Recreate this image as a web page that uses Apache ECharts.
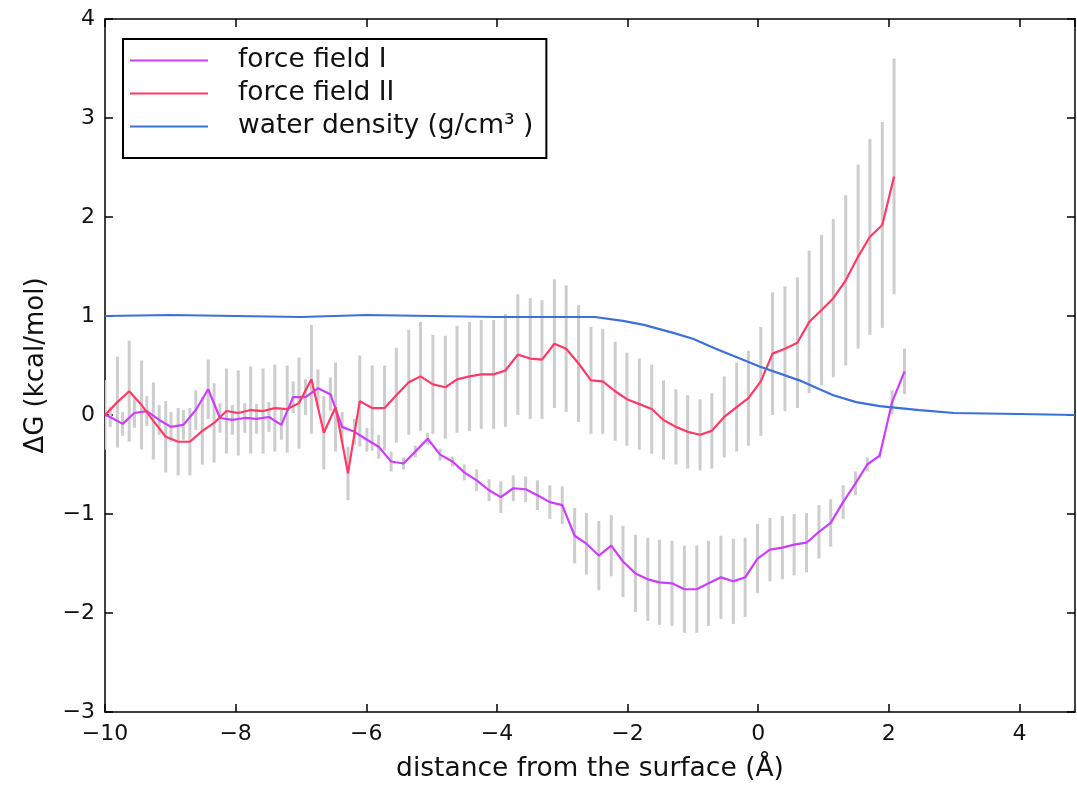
<!DOCTYPE html>
<html>
<head>
<meta charset="utf-8">
<script src="https://cdn.jsdelivr.net/npm/echarts@6/dist/echarts.min.js"></script>
<style>
html,body{margin:0;padding:0;background:#fff;}
#chart{width:1077px;height:791px;}
</style>
</head>
<body>
<div id="chart"></div>
<script>
// ---------- data ----------
const seriesNames = ['force field I', 'force field II', 'water density (g/cm\u00b3 )'];

const ff1X = [-10.00, -9.92, -9.73, -9.55, -9.36, -9.17, -8.99, -8.80, -8.61, -8.42, -8.24,
  -8.05, -7.86, -7.68, -7.49, -7.30, -7.12, -6.93, -6.74, -6.55, -6.37,
  -6.18, -5.99, -5.81, -5.62, -5.43, -5.25, -5.06, -4.87, -4.68, -4.50,
  -4.31, -4.12, -3.94, -3.75, -3.56, -3.38, -3.19, -3.00, -2.81, -2.63,
  -2.44, -2.25, -2.07, -1.88, -1.69, -1.51, -1.32, -1.13, -0.94, -0.76,
  -0.57, -0.38, -0.20, -0.01, 0.18, 0.37, 0.55, 0.74, 0.93, 1.11,
  1.30, 1.49, 1.67, 1.86, 2.05, 2.24];
const ff1Y = [0.00, -0.02, -0.09, 0.02, 0.04, -0.05, -0.12, -0.10, 0.05, 0.26, -0.03,
  -0.05, -0.03, -0.04, -0.02, -0.10, 0.18, 0.18, 0.27, 0.21, -0.12,
  -0.17, -0.25, -0.32, -0.47, -0.49, -0.37, -0.24, -0.40, -0.47, -0.58,
  -0.66, -0.76, -0.83, -0.74, -0.75, -0.81, -0.88, -0.91, -1.22, -1.30,
  -1.42, -1.32, -1.48, -1.60, -1.66, -1.69, -1.70, -1.76, -1.76, -1.70,
  -1.64, -1.68, -1.64, -1.45, -1.36, -1.34, -1.31, -1.29, -1.18, -1.09,
  -0.88, -0.69, -0.50, -0.41, 0.13, 0.44];
const ff1Err = [0.00, 0.10, 0.12, 0.15, 0.15, 0.15, 0.15, 0.15, 0.20, 0.30, 0.15,
  0.15, 0.15, 0.15, 0.15, 0.15, 0.16, 0.18, 0.19, 0.17, 0.15,
  0.13, 0.12, 0.12, 0.10, 0.06, 0.06, 0.06, 0.06, 0.05, 0.08,
  0.11, 0.11, 0.16, 0.13, 0.13, 0.15, 0.17, 0.19, 0.28, 0.31,
  0.35, 0.31, 0.36, 0.39, 0.42, 0.43, 0.43, 0.44, 0.44, 0.43,
  0.42, 0.43, 0.40, 0.35, 0.32, 0.32, 0.31, 0.30, 0.27, 0.24,
  0.17, 0.12, 0.07, 0.03, 0.12, 0.23];

const ff2X = [-10.00, -9.81, -9.63, -9.44, -9.26, -9.07, -8.88, -8.70, -8.51, -8.33,
  -8.14, -7.96, -7.77, -7.58, -7.40, -7.21, -7.03, -6.84, -6.65, -6.47,
  -6.28, -6.10, -5.91, -5.72, -5.54, -5.35, -5.17, -4.98, -4.79, -4.61,
  -4.42, -4.24, -4.05, -3.87, -3.68, -3.49, -3.31, -3.12, -2.94, -2.75,
  -2.56, -2.38, -2.19, -2.01, -1.82, -1.63, -1.45, -1.26, -1.08, -0.89,
  -0.71, -0.52, -0.33, -0.15, 0.04, 0.22, 0.41, 0.60, 0.78, 0.97,
  1.15, 1.34, 1.53, 1.71, 1.90, 2.08];
const ff2Y = [0.00, 0.13, 0.24, 0.10, -0.06, -0.22, -0.27, -0.27, -0.16, -0.08,
  0.04, 0.02, 0.05, 0.04, 0.07, 0.06, 0.12, 0.36, -0.18, 0.08,
  -0.59, 0.14, 0.07, 0.07, 0.20, 0.33, 0.39, 0.31, 0.28, 0.36,
  0.39, 0.41, 0.41, 0.45, 0.61, 0.57, 0.56, 0.72, 0.67, 0.52,
  0.35, 0.34, 0.24, 0.16, 0.11, 0.06, -0.05, -0.12, -0.17, -0.20,
  -0.16, -0.02, 0.08, 0.17, 0.34, 0.62, 0.67, 0.73, 0.94, 1.06,
  1.18, 1.36, 1.60, 1.80, 1.92, 2.41];
const ff2Err = [0.35, 0.46, 0.51, 0.45, 0.39, 0.36, 0.34, 0.34, 0.34, 0.40,
  0.43, 0.43, 0.44, 0.43, 0.44, 0.44, 0.46, 0.55, 0.37, 0.45,
  0.27, 0.46, 0.43, 0.43, 0.48, 0.53, 0.55, 0.50, 0.52, 0.54,
  0.55, 0.55, 0.55, 0.57, 0.61, 0.61, 0.60, 0.65, 0.64, 0.59,
  0.54, 0.53, 0.50, 0.47, 0.46, 0.45, 0.40, 0.38, 0.37, 0.36,
  0.38, 0.41, 0.45, 0.48, 0.55, 0.62, 0.63, 0.66, 0.72, 0.76,
  0.80, 0.86, 0.93, 0.99, 1.04, 1.19];

const waterX = [-10, -9, -8, -7, -6, -5, -4, -3, -2.5, -2.07, -1.75, -1.3, -1.0, -0.65,
  -0.28, 0.02, 0.63, 0.94, 1.15, 1.5, 1.86, 2.47, 3.0, 4.0, 4.85];
const waterY = [1.00, 1.01, 1.00, 0.99, 1.01, 1.00, 0.99, 0.99, 0.99, 0.95, 0.91, 0.83, 0.77, 0.67,
  0.57, 0.49, 0.35, 0.26, 0.20, 0.13, 0.09, 0.05, 0.02, 0.01, 0.00];

const xTicks = [-10, -8, -6, -4, -2, 0, 2, 4];
const yTicks = [-3, -2, -1, 0, 1, 2, 3, 4];

// ---------- build ----------
const pairs = (xs, ys) => xs.map((x, i) => [x, ys[i]]);
const errRows = (xs, ys, es) => xs.map((x, i) => [x, ys[i] - es[i], ys[i] + es[i]]);
const fmtNum = v => (v < 0 ? '\u2212' + Math.abs(v) : String(v));

const FONT = 'DejaVu Sans';
const colors = ['#cc3dff', '#ff3a66', '#3c6fd7'];

const errorSeries = (name, rows) => ({
  name: name,
  type: 'custom',
  xAxisIndex: 0, yAxisIndex: 0,
  silent: true,
  z: 1,
  clip: true,
  encode: { x: 0, y: [1, 2] },
  data: rows,
  renderItem: function (params, api) {
    const x = api.value(0), lo = api.value(1), hi = api.value(2);
    const p1 = api.coord([x, lo]);
    const p2 = api.coord([x, hi]);
    return {
      type: 'line',
      shape: { x1: p1[0], y1: p1[1], x2: p2[0], y2: p2[1] },
      style: { stroke: '#cdcdcd', lineWidth: 3 }
    };
  }
});

const lineSeries = (name, data, color, z) => ({
  name: name,
  type: 'line',
  data: data,
  showSymbol: false,
  symbol: 'none',
  z: z,
  lineStyle: { color: color, width: 2.2 },
  itemStyle: { color: color },
  animation: false
});

const axisCommon = () => ({
  axisLine: { show: true, onZero: false, lineStyle: { color: '#000', width: 1.5 } },
  axisTick: { show: true, inside: true, length: 8, lineStyle: { color: '#000', width: 1.5 } },
  splitLine: { show: false }
});

const option = {
  animation: false,
  backgroundColor: '#fff',
  textStyle: { fontFamily: FONT },
  grid: { left: 105, right: 2, top: 19, bottom: 79, containLabel: false },
  xAxis: [
    Object.assign({
      type: 'value', min: -10, max: 4.85, interval: 2, position: 'bottom',
      name: 'distance from the surface (\u00c5)', nameLocation: 'middle', nameGap: 44,
      nameTextStyle: { fontSize: 26.5, color: '#111', fontFamily: FONT },
      axisLabel: {
        fontSize: 22, color: '#111', fontFamily: FONT, margin: 11,
        showMaxLabel: false,
        formatter: v => (xTicks.indexOf(v) >= 0 ? fmtNum(v) : '')
      }
    }, axisCommon()),
    Object.assign({
      type: 'value', min: -10, max: 4.85, interval: 2, position: 'top',
      axisLabel: { show: false }
    }, axisCommon())
  ],
  yAxis: [
    Object.assign({
      type: 'value', min: -3, max: 4, interval: 1, position: 'left',
      name: '\u0394G (kcal/mol)', nameLocation: 'middle', nameGap: 56,
      nameTextStyle: { fontSize: 26, color: '#111', fontFamily: FONT },
      axisLabel: {
        fontSize: 22, color: '#111', fontFamily: FONT, margin: 10,
        formatter: v => (yTicks.indexOf(v) >= 0 ? fmtNum(v) : '')
      }
    }, axisCommon()),
    Object.assign({
      type: 'value', min: -3, max: 4, interval: 1, position: 'right',
      axisLabel: { show: false }
    }, axisCommon())
  ],
  legend: {
    data: seriesNames,
    orient: 'vertical',
    left: 123, top: 39,
    padding: [5, 13, 15, 7],
    itemGap: 0,
    icon: 'rect',
    itemWidth: 78, itemHeight: 2,
    borderColor: '#000', borderWidth: 2,
    backgroundColor: '#fff',
    selectedMode: false,
    textStyle: { fontSize: 26.5, color: '#111', fontFamily: FONT, lineHeight: 33, padding: [0, 0, 0, 25] }
  },
  series: [
    errorSeries('err I', errRows(ff1X.slice(1), ff1Y.slice(1), ff1Err.slice(1))),
    errorSeries('err II', errRows(ff2X, ff2Y, ff2Err)),
    lineSeries(seriesNames[0], pairs(ff1X, ff1Y), colors[0], 3),
    lineSeries(seriesNames[1], pairs(ff2X, ff2Y), colors[1], 4),
    lineSeries(seriesNames[2], pairs(waterX, waterY), colors[2], 5)
  ]
};

const chart = echarts.init(document.getElementById('chart'), null, { renderer: 'canvas' });
chart.setOption(option);
</script>
</body>
</html>
